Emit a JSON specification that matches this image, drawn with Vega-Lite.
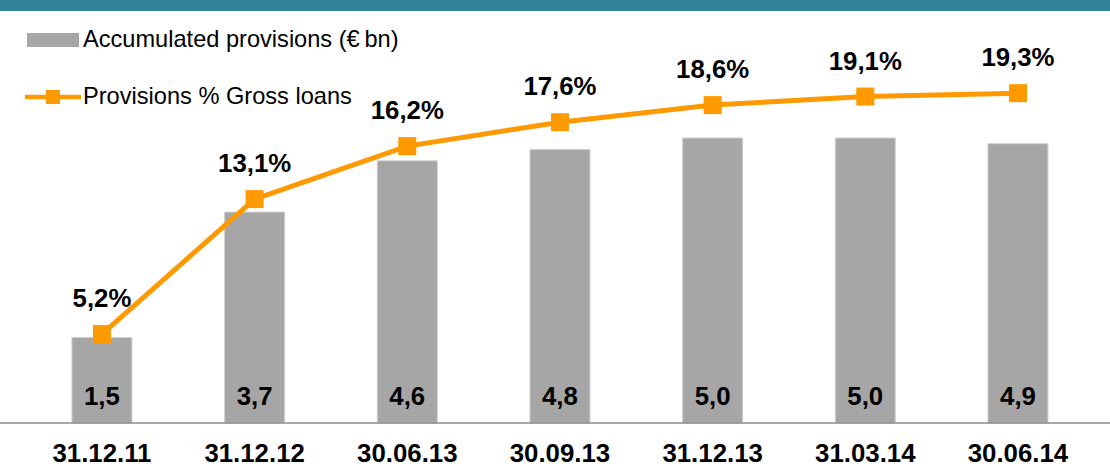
{
  "$schema": "https://vega.github.io/schema/vega-lite/v6.json",
  "width": 1110,
  "height": 423,
  "autosize": {"type": "none"},
  "padding": {"left": 0, "top": 0, "right": 0, "bottom": 43},
  "background": "white",
  "config": {"view": {"stroke": null}, "font": "Liberation Sans"},
  "data": {"values": [
    {"date": "31.12.11", "prov": 1.5, "pct": 5.2, "provLabel": "1,5", "pctLabel": "5,2%"},
    {"date": "31.12.12", "prov": 3.7, "pct": 13.1, "provLabel": "3,7", "pctLabel": "13,1%"},
    {"date": "30.06.13", "prov": 4.6, "pct": 16.2, "provLabel": "4,6", "pctLabel": "16,2%"},
    {"date": "30.09.13", "prov": 4.8, "pct": 17.6, "provLabel": "4,8", "pctLabel": "17,6%"},
    {"date": "31.12.13", "prov": 5.0, "pct": 18.6, "provLabel": "5,0", "pctLabel": "18,6%"},
    {"date": "31.03.14", "prov": 5.0, "pct": 19.1, "provLabel": "5,0", "pctLabel": "19,1%"},
    {"date": "30.06.14", "prov": 4.9, "pct": 19.3, "provLabel": "4,9", "pctLabel": "19,3%"}
  ]},
  "layer": [
    {
      "mark": {"type": "bar", "stroke": "#CFCFCF", "strokeWidth": 1},
      "encoding": {
        "x": {
          "field": "date", "type": "nominal", "sort": null,
          "scale": {"paddingInner": 0.607, "paddingOuter": 0.4388, "align": 0.537},
          "axis": {"title": null, "domain": false, "ticks": false, "labelAngle": 0,
                   "labelFontSize": 25.8, "labelFontWeight": "bold", "labelColor": "#000000",
                   "labelPadding": 18, "labelFont": "Liberation Sans"}
        },
        "y": {"field": "prov", "type": "quantitative",
              "scale": {"domain": [0, 7.421], "nice": false, "zero": true}, "axis": null},
        "fill": {"datum": "Accumulated provisions (€\u2009bn)", "type": "nominal",
                 "scale": {"range": ["#A6A6A6"]},
                 "legend": {"title": null, "orient": "none", "legendX": 27, "legendY": 14,
                            "padding": 0, "symbolType": "M-1,-0.27H1V0.27H-1Z",
                            "symbolSize": 2704, "symbolStrokeWidth": 0, "symbolOpacity": 1,
                            "labelFontSize": 23.6, "labelColor": "#000000", "labelOffset": 4,
                            "labelFont": "Liberation Sans", "labelLimit": 0}}
      }
    },
    {
      "mark": {"type": "text", "fontSize": 25.8, "fontWeight": "bold", "color": "#000000",
               "baseline": "middle", "dy": -26},
      "encoding": {
        "x": {"field": "date", "type": "nominal", "sort": null},
        "y": {"datum": 0, "type": "quantitative", "scale": {"domain": [0, 7.421], "nice": false}, "axis": null},
        "text": {"field": "provLabel"}
      }
    },
    {
      "data": {"values": [{"baseline": 0}]},
      "mark": {"type": "rule", "color": "#8C8C8C", "strokeWidth": 1.5},
      "encoding": {
        "y": {"field": "baseline", "type": "quantitative", "scale": {"domain": [0, 7.421], "nice": false}, "axis": null}
      }
    },
    {
      "data": {"values": [{"band": 7.325}]},
      "mark": {"type": "rule", "color": "#31849B", "strokeWidth": 11},
      "encoding": {
        "y": {"field": "band", "type": "quantitative", "scale": {"domain": [0, 7.421], "nice": false}, "axis": null}
      }
    },
    {
      "mark": {"type": "line", "strokeWidth": 5, "color": "#FF9900"},
      "encoding": {
        "x": {"field": "date", "type": "nominal", "sort": null},
        "y": {"field": "pct", "type": "quantitative",
              "scale": {"domain": [0, 24.75], "nice": false, "zero": true}, "axis": null},
        "stroke": {"datum": "Provisions % Gross loans", "type": "nominal",
                   "scale": {"range": ["#FF9900"]},
                   "legend": {"title": null, "orient": "none", "legendX": 25, "legendY": 69,
                              "padding": 0,
                              "symbolType": "M-1,-0.08H1V0.08H-1ZM-0.25,-0.25H0.25V0.25H-0.25Z",
                              "symbolSize": 3136, "symbolStrokeWidth": 0, "symbolFillColor": "#FF9900",
                              "symbolOpacity": 1,
                              "labelFontSize": 23.6, "labelColor": "#000000", "labelOffset": 2,
                              "labelFont": "Liberation Sans", "labelLimit": 0}}
      }
    },
    {
      "mark": {"type": "point", "shape": "square", "size": 324, "filled": true,
               "color": "#FF9900", "opacity": 1},
      "encoding": {
        "x": {"field": "date", "type": "nominal", "sort": null},
        "y": {"field": "pct", "type": "quantitative",
              "scale": {"domain": [0, 24.75], "nice": false, "zero": true}, "axis": null}
      }
    },
    {
      "mark": {"type": "text", "fontSize": 25.8, "fontWeight": "bold", "color": "#000000",
               "baseline": "middle", "dy": -35},
      "encoding": {
        "x": {"field": "date", "type": "nominal", "sort": null},
        "y": {"field": "pct", "type": "quantitative",
              "scale": {"domain": [0, 24.75], "nice": false, "zero": true}, "axis": null},
        "text": {"field": "pctLabel"}
      }
    }
  ],
  "resolve": {"scale": {"y": "independent", "fill": "independent", "stroke": "independent"}}
}
